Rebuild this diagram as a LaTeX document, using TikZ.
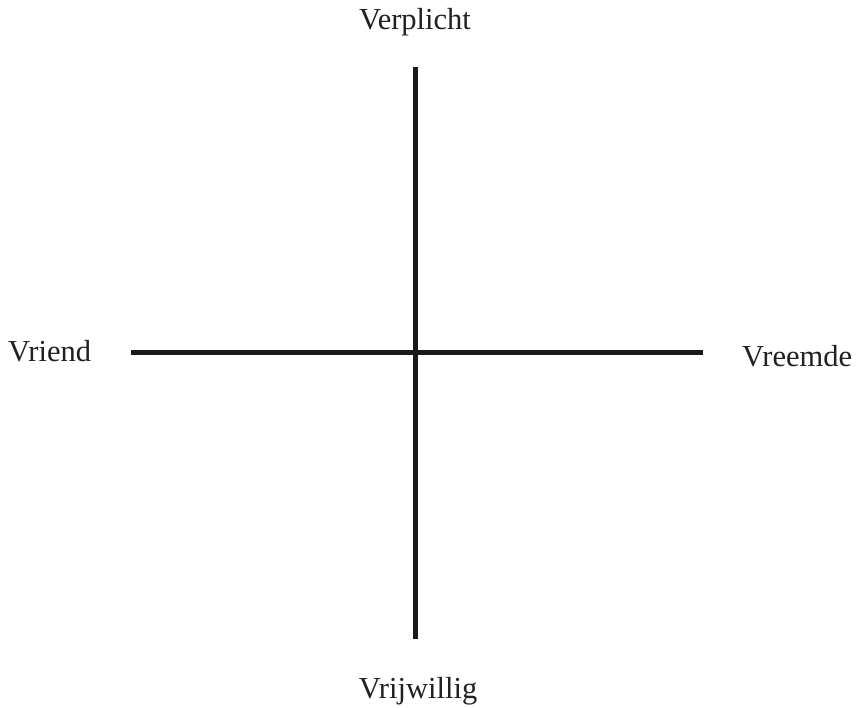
\documentclass[tikz,border=0pt]{standalone}
\usepackage{fontspec}
\setmainfont{Liberation Serif}
\usetikzlibrary{positioning}

\begin{document}
\begin{tikzpicture}[
    x=1pt, y=-1pt,
    axis/.style={draw=black!90, line width=5pt},
    label/.style={font=\fontsize{30.5}{36}\selectfont, text=black!87, inner sep=0pt}
]
    \useasboundingbox (0,0) rectangle (860,708);

    % Axes
    \coordinate (top) at (415,67);
    \coordinate (bottom) at (415,639);
    \coordinate (left) at (131,353);
    \coordinate (right) at (703,353);
    \draw[axis] (top) -- (bottom);
    \draw[axis] (left) -- (right);

    % Labels
    \node[label, anchor=base] (verplicht) at (415,30) {Verplicht};
    \node[label, anchor=base] (vrijwillig) at (418,698) {Vrijwillig};
    \node[label, anchor=base west] (vriend) at (8,362) {Vriend};
    \node[label, anchor=base west] (vreemde) at (742,367) {Vreemde};

\end{tikzpicture}
\end{document}
